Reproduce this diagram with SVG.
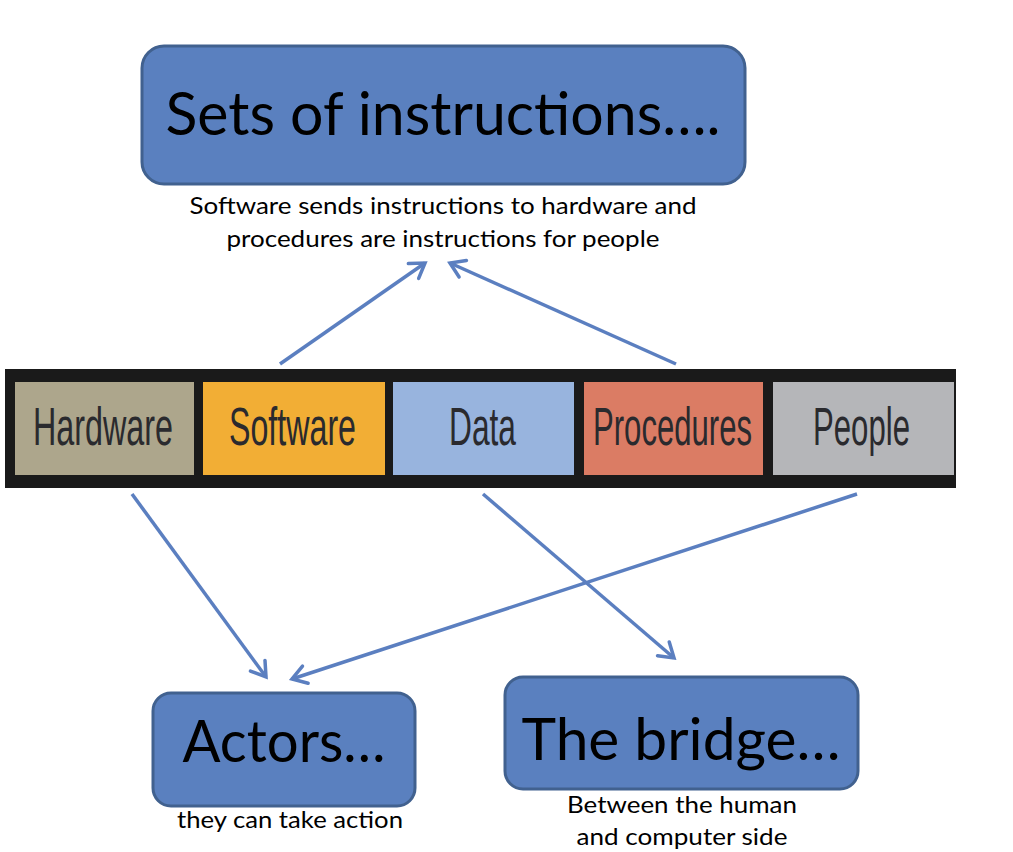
<svg xmlns="http://www.w3.org/2000/svg" width="1013" height="852" viewBox="0 0 1013 852">
<defs>
<style>
.box{fill:#5A80BF;stroke:#41618F;stroke-width:3}
.big{font-family:Lato,"Noto Sans",sans-serif;fill:#000;text-anchor:middle}
.sub{font-family:Lato,"Noto Sans",sans-serif;font-size:23px;fill:#000;text-anchor:middle}
.cell{font-family:"Liberation Sans",Arial,sans-serif;font-size:37px;fill:#2a2a2e}
.conn{stroke:#5B7FC0;stroke-width:3.5;fill:none;marker-end:url(#arr)}
</style>
<marker id="arr" markerUnits="userSpaceOnUse" markerWidth="30" markerHeight="30" viewBox="-20 -15 30 30" refX="0" refY="0" orient="auto">
<path d="M -14 -9 L 0 0 L -14 9" fill="none" stroke="#5B7FC0" stroke-width="3.5" stroke-linecap="round" stroke-linejoin="miter"/>
</marker>
</defs>
<rect width="1013" height="852" fill="#fff"/>

<g id="sets">
<rect class="box" x="142" y="46" width="603" height="138" rx="22"/>
<text class="big" x="443" y="135" font-size="60" textLength="555" lengthAdjust="spacingAndGlyphs">Sets of instructions….</text>
<text class="sub" x="443" y="214" textLength="507" lengthAdjust="spacingAndGlyphs">Software sends instructions to hardware and</text>
<text class="sub" x="443" y="247" textLength="433" lengthAdjust="spacingAndGlyphs">procedures are instructions for people</text>
</g>

<g id="bar">
<rect x="5" y="369" width="951" height="119" fill="#1a1a1a"/>
<g id="hardware">
<rect x="15" y="382" width="179" height="93" fill="#ADA68C"/>
<text class="cell" transform="translate(33 445) scale(1 1.45)" x="0" y="0" textLength="140" lengthAdjust="spacingAndGlyphs">Hardware</text>
</g>
<g id="software">
<rect x="203" y="382" width="182" height="93" fill="#F2AE35"/>
<text class="cell" transform="translate(229 445) scale(1 1.45)" x="0" y="0" textLength="127" lengthAdjust="spacingAndGlyphs">Software</text>
</g>
<g id="data">
<rect x="393" y="382" width="181" height="93" fill="#98B4DE"/>
<text class="cell" transform="translate(449 445) scale(1 1.45)" x="0" y="0" textLength="67" lengthAdjust="spacingAndGlyphs">Data</text>
</g>
<g id="procedures">
<rect x="584" y="382" width="179" height="93" fill="#DB7C64"/>
<text class="cell" transform="translate(593 445) scale(1 1.45)" x="0" y="0" textLength="159" lengthAdjust="spacingAndGlyphs">Procedures</text>
</g>
<g id="people">
<rect x="773" y="382" width="181" height="93" fill="#B5B6B9"/>
<text class="cell" transform="translate(813 445) scale(1 1.45)" x="0" y="0" textLength="97" lengthAdjust="spacingAndGlyphs">People</text>
</g>
</g>

<g id="actors">
<rect class="box" x="153" y="693" width="262" height="113" rx="18"/>
<text class="big" x="284" y="762" font-size="58" textLength="203" lengthAdjust="spacingAndGlyphs">Actors…</text>
<text class="sub" x="290" y="828" textLength="226" lengthAdjust="spacingAndGlyphs">they can take action</text>
</g>

<g id="bridge">
<rect class="box" x="505" y="677" width="353" height="112" rx="18"/>
<text class="big" x="681" y="760" font-size="58" textLength="319" lengthAdjust="spacingAndGlyphs">The bridge…</text>
<text class="sub" x="682" y="813" textLength="230" lengthAdjust="spacingAndGlyphs">Between the human</text>
<text class="sub" x="682" y="845" textLength="211" lengthAdjust="spacingAndGlyphs">and computer side</text>
</g>

<g id="connectors">
<line class="conn" x1="280" y1="364" x2="425" y2="263"/>
<line class="conn" x1="676" y1="364" x2="450" y2="263"/>
<line class="conn" x1="132" y1="494" x2="266" y2="677"/>
<line class="conn" x1="857" y1="494" x2="292" y2="679"/>
<line class="conn" x1="483" y1="494" x2="674" y2="658"/>
</g>
</svg>
